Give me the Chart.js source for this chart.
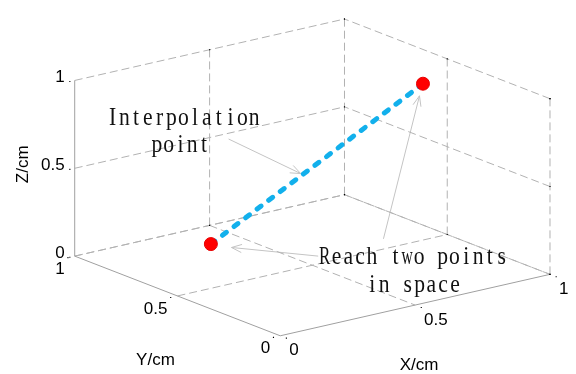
<!DOCTYPE html>
<html><head><meta charset="utf-8">
<script src="https://cdn.jsdelivr.net/npm/chart.js@4/dist/chart.umd.min.js"></script>
<style>html,body{margin:0;padding:0;background:#fff;overflow:hidden}</style>
</head><body>
<canvas id="c" width="576" height="374" style="display:block;width:576px;height:374px"></canvas>
<script>
// ---- data ----
const xTicks = [0, 0.5, 1];
const yTicks = [0, 0.5, 1];
const zTicks = [0, 0.5, 1];
const tickLabels = ['0', '0.5', '1'];
const startPoint = [0.2, 0.6, 0.18];   // x, y, z (cm)
const endPoint = [0.91, 0.5, 0.89];    // x, y, z (cm)
const axisTitles = ['X/cm', 'Y/cm', 'Z/cm'];
const note1 = ['Interpolation', 'point'];
const note2 = ['Reach two points', 'in space'];

// ---- 3D view projection (screen units of the hidden 2D scales) ----
const VIEW = {ox: 280, oy: 342, ex: [277, -64], ey: [-211, -83], ez: [0, -183]};
function proj(p) {
  return {x: VIEW.ox + VIEW.ex[0]*p[0] + VIEW.ey[0]*p[1] + VIEW.ez[0]*p[2],
          y: VIEW.oy + VIEW.ex[1]*p[0] + VIEW.ey[1]*p[1] + VIEW.ez[1]*p[2]};
}

const GRID = 'rgb(178,178,178)';
const AXIS = 'rgb(160,160,160)';
const datasets = [];

// data markers (drawn on top)
datasets.push({type: 'scatter', data: [proj(startPoint), proj(endPoint)], showLine: false,
  pointRadius: 6.5, pointHoverRadius: 6.5, backgroundColor: '#ff0000', borderColor: '#e60000', borderWidth: 1, order: 0});
// interpolation line
datasets.push({type: 'scatter', data: [proj(startPoint), proj(endPoint)], showLine: true,
  borderColor: '#12b0ec', borderWidth: 5, borderDash: [5, 9.5], borderCapStyle: 'round', pointRadius: 0, order: 1});

function seg(a, b, dashed, color) {
  datasets.push({type: 'scatter', data: [proj(a), proj(b)], showLine: true, borderColor: color,
    borderWidth: 1, borderDash: dashed ? [8, 4] : [], pointRadius: 0, order: dashed ? 4 : 3});
}
// back wall y=1
zTicks.forEach(z => seg([0, 1, z], [1, 1, z], true, GRID));
xTicks.filter(x => x > 0).forEach(x => seg([x, 1, 0], [x, 1, 1], true, GRID));
// side wall x=1
zTicks.forEach(z => seg([1, 0, z], [1, 1, z], true, GRID));
yTicks.filter(y => y < 1).forEach(y => seg([1, y, 0], [1, y, 1], true, GRID));
// floor z=0
xTicks.filter(x => x > 0).forEach(x => seg([x, 1, 0], [x, 0, 0], true, GRID));
yTicks.filter(y => y > 0).forEach(y => seg([0, y, 0], [1, y, 0], true, GRID));
// axes
seg([0, 1, 0], [0, 1, 1], false, AXIS);
seg([0, 0, 0], [0, 1, 0], false, AXIS);
seg([0, 0, 0], [1, 0, 0], false, AXIS);

// tick marks (dots)
const dots = [];
zTicks.forEach(z => dots.push(proj([-0.018, 1, z])));
yTicks.forEach(y => dots.push(proj([-0.025, y, 0])));
xTicks.forEach(x => dots.push(proj([x, -0.03, 0])));
xTicks.filter(x => x > 0).forEach(x => { dots.push(proj([x, 1, 1])); dots.push(proj([x, 1, 0])); });
yTicks.filter(y => y < 1).forEach(y => { dots.push(proj([1, y, 1])); dots.push(proj([1, y, 0])); });
zTicks.forEach(z => { dots.push(proj([1, 0, z])); dots.push(proj([1, 1, z])); });
datasets.push({type: 'scatter', data: dots, pointStyle: 'rect', pointRadius: 0.8, backgroundColor: '#000', borderColor: '#000', borderWidth: 0, order: 2});

// ---- annotation layout (screen units) ----
const notes = [
  {lines: note1, cx: [180.5, 177.5], base: [122, 151]},
  {lines: note2, cx: [416.5, 417], base: [267, 296]}
];
const arrows = [
  {from: [227, 137], to: [301, 173]},
  {from: [386, 241], to: [423, 92]},
  {from: [319, 259], to: [230, 250]}
];

function drawMono(ctx, text, cx, base, pitch) {
  ctx.save();
  ctx.font = '24px "Liberation Serif"';
  ctx.fillStyle = '#111';
  ctx.textAlign = 'center';
  ctx.textBaseline = 'alphabetic';
  const left = cx - text.length * pitch / 2;
  for (let i = 0; i < text.length; i++) {
    const ch = text[i];
    if (ch === ' ') continue;
    const w = ctx.measureText(ch).width;
    const s = Math.min(0.9, (pitch - 0.5) / w);
    ctx.save();
    ctx.translate(left + (i + 0.5) * pitch, base);
    ctx.scale(s, 1.04);
    ctx.fillText(ch, 0, 0);
    ctx.restore();
  }
  ctx.restore();
}

const overlay = {
  id: 'overlay',
  beforeDatasetsDraw(chart) {
    const ctx = chart.ctx, sx = chart.scales.x, sy = chart.scales.y;
    const P = p => [sx.getPixelForValue(p[0]), sy.getPixelForValue(p[1])];
    ctx.save();
    ctx.strokeStyle = 'rgb(196,196,196)';
    ctx.lineWidth = 1;
    arrows.forEach(a => {
      const f = P(a.from), t = P(a.to);
      ctx.beginPath(); ctx.moveTo(f[0], f[1]); ctx.lineTo(t[0], t[1]); ctx.stroke();
      const ang = Math.atan2(t[1] - f[1], t[0] - f[0]);
      const L = 11, da = 0.38;
      ctx.beginPath();
      ctx.moveTo(t[0] - L * Math.cos(ang - da), t[1] - L * Math.sin(ang - da));
      ctx.lineTo(t[0], t[1]);
      ctx.lineTo(t[0] - L * Math.cos(ang + da), t[1] - L * Math.sin(ang + da));
      ctx.stroke();
    });
    ctx.restore();
  },
  afterDatasetsDraw(chart) {
    const ctx = chart.ctx, sx = chart.scales.x, sy = chart.scales.y;
    const px = p => ({x: sx.getPixelForValue(p.x), y: sy.getPixelForValue(p.y)});
    ctx.save();
    ctx.fillStyle = '#000';
    ctx.font = '17px "Liberation Sans", Arial, sans-serif';
    ctx.textBaseline = 'middle';
    // z tick labels
    ctx.textAlign = 'right';
    zTicks.forEach((z, i) => { const p = px(proj([0, 1, z])); ctx.fillText(tickLabels[i], p.x - 10, p.y - 3); });
    // y tick labels
    yTicks.forEach((y, i) => { const p = px(proj([0, y, 0])); ctx.fillText(tickLabels[i], p.x - 10, p.y + 13); });
    // x tick labels
    ctx.textAlign = 'left';
    xTicks.forEach((x, i) => { const p = px(proj([x, 0, 0])); ctx.fillText(tickLabels[i], p.x + 9, p.y + 15); });
    // axis titles
    ctx.textAlign = 'center';
    const xm = px(proj([0.5, 0, 0])), ym = px(proj([0, 0.5, 0])), zm = px(proj([0, 1, 0.5]));
    ctx.fillText(axisTitles[0], xm.x + 4, xm.y + 60);
    ctx.fillText(axisTitles[1], ym.x - 22, ym.y + 64);
    ctx.save();
    ctx.translate(zm.x - 51, zm.y - 4);
    ctx.rotate(-Math.PI / 2);
    ctx.fillText(axisTitles[2], 0, 0);
    ctx.restore();
    ctx.restore();
    // annotations
    notes.forEach(n => n.lines.forEach((t, i) =>
      drawMono(ctx, t, sx.getPixelForValue(n.cx[i]), sy.getPixelForValue(n.base[i]), 11.8)));
  }
};

new Chart(document.getElementById('c'), {
  type: 'scatter',
  data: {datasets},
  options: {
    responsive: false,
    animation: false,
    events: [],
    layout: {padding: 0},
    plugins: {legend: {display: false}, tooltip: {enabled: false}},
    scales: {
      x: {type: 'linear', min: 0, max: 576, display: false},
      y: {type: 'linear', min: 0, max: 374, reverse: true, display: false}
    },
    elements: {line: {tension: 0}}
  },
  plugins: [overlay]
});
</script>
</body></html>
